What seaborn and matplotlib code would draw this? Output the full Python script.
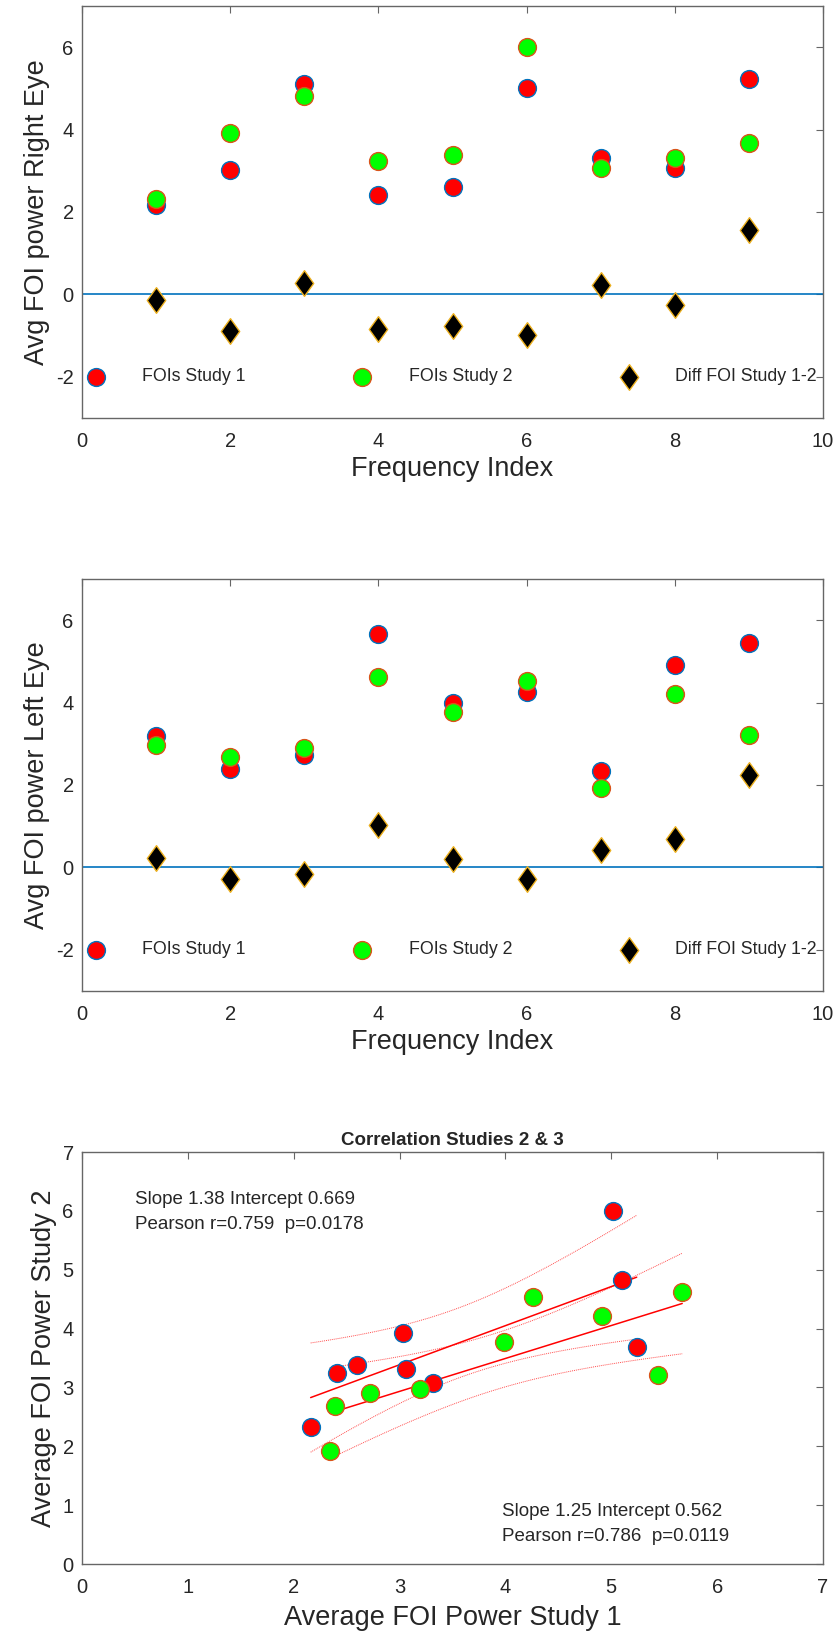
import numpy as np
import pandas as pd
import seaborn as sns
import matplotlib
matplotlib.use('Agg')
import matplotlib.pyplot as plt
from matplotlib.path import Path

# Datos: potencia FOI promedio por indice de frecuencia
freq = [1, 2, 3, 4, 5, 6, 7, 8, 9]

# Ojo derecho
right_s1 = [2.16, 3.03, 5.10, 2.41, 2.60, 5.02, 3.32, 3.06, 5.24]
right_s2 = [2.32, 3.92, 4.82, 3.24, 3.38, 6.00, 3.07, 3.32, 3.68]
right_diff = [-0.14, -0.89, 0.27, -0.84, -0.77, -0.99, 0.24, -0.25, 1.56]

# Ojo izquierdo
left_s1 = [3.19, 2.39, 2.72, 5.67, 3.99, 4.26, 2.34, 4.91, 5.44]
left_s2 = [2.97, 2.68, 2.90, 4.62, 3.78, 4.53, 1.92, 4.21, 3.21]
left_diff = [0.22, -0.29, -0.17, 1.04, 0.20, -0.27, 0.42, 0.70, 2.24]

# Textos de la regresion (tal cual aparecen)
stats_right = ['Slope 1.38 Intercept 0.669', 'Pearson r=0.759  p=0.0178']
stats_left = ['Slope 1.25 Intercept 0.562', 'Pearson r=0.786  p=0.0119']

T_95 = 2.365  # t de student, 7 grados de libertad

sns.set_style('white')
plt.rcParams['font.family'] = ['Liberation Sans', 'DejaVu Sans']
plt.rcParams['axes.unicode_minus'] = False
plt.rcParams['axes.edgecolor'] = '#666666'
plt.rcParams['xtick.color'] = '#666666'
plt.rcParams['ytick.color'] = '#666666'
plt.rcParams['xtick.labelcolor'] = '#262626'
plt.rcParams['ytick.labelcolor'] = '#262626'

RED, RED_EDGE = '#FF0000', '#0072BD'
GREEN, GREEN_EDGE = '#00FF00', '#D95319'
DIAM_EDGE = '#EDB120'
MS = 165
# rombo estilo matlab (mas ancho que el 'd' de matplotlib)
ROMBO = Path([(0, 1), (0.72, 0), (0, -1), (-0.72, 0), (0, 1)], closed=True)

W, H = 839, 1642
fig = plt.figure(figsize=(W / 100, H / 100), dpi=100)


def nuevo_eje(top, bottom):
    return fig.add_axes([82 / W, 1 - bottom / H, 741 / W, (bottom - top) / H])


def estilo(ax):
    ax.tick_params(direction='in', top=True, right=True, length=5, width=0.8,
                   labelsize=14.5, pad=6)
    ax.tick_params(axis='x', pad=10)
    for s in ax.spines.values():
        s.set_linewidth(1.0)


def panel_ojo(ax, s1, s2, diff, ylabel):
    df = pd.DataFrame({'freq': freq, 's1': s1, 's2': s2, 'diff': diff})
    ax.axhline(0, color='#0072BD', lw=1.2, zorder=1)
    sns.scatterplot(data=df, x='freq', y='s1', ax=ax, color=RED, edgecolor=RED_EDGE,
                    linewidth=1.0, s=MS, label='FOIs Study 1', zorder=3)
    sns.scatterplot(data=df, x='freq', y='s2', ax=ax, color=GREEN, edgecolor=GREEN_EDGE,
                    linewidth=1.0, s=MS, label='FOIs Study 2', zorder=3)
    sns.scatterplot(data=df, x='freq', y='diff', ax=ax, color='black', edgecolor=DIAM_EDGE,
                    linewidth=1.0, s=340, marker=ROMBO, label='Diff FOI Study 1-2', zorder=3)
    ax.set_xlim(0, 10)
    ax.set_ylim(-3, 7)
    ax.set_xticks([0, 2, 4, 6, 8, 10])
    ax.set_yticks([-2, 0, 2, 4, 6])
    ax.set_xlabel('Frequency Index', fontsize=19.5, color='#262626', labelpad=4)
    ax.set_ylabel(ylabel, fontsize=19.5, color='#262626', labelpad=4)
    ax.legend(loc='center left', bbox_to_anchor=(0.0, 0.1), ncol=3, frameon=False,
              fontsize=12.8, handlelength=1.0, handletextpad=2.1, columnspacing=6.05,
              borderaxespad=0, borderpad=0.3)
    estilo(ax)


def ajuste(ax, x, y):
    x = np.asarray(x)
    y = np.asarray(y)
    n = len(x)
    b, a = np.polyfit(x, y, 1)
    res = y - (a + b * x)
    s = np.sqrt(np.sum(res ** 2) / (n - 2))
    sxx = np.sum((x - x.mean()) ** 2)
    xs = np.linspace(x.min(), x.max(), 60)
    yh = a + b * xs
    se = s * np.sqrt(1 / n + (xs - x.mean()) ** 2 / sxx)
    linea = pd.DataFrame({'x': xs, 'y': yh, 'lo': yh - T_95 * se, 'hi': yh + T_95 * se})
    sns.lineplot(data=linea, x='x', y='y', ax=ax, color='red', lw=1.1, zorder=2)
    sns.lineplot(data=linea, x='x', y='lo', ax=ax, color='red', lw=0.7,
                 linestyle=(0, (1, 1)), alpha=0.7, zorder=2)
    sns.lineplot(data=linea, x='x', y='hi', ax=ax, color='red', lw=0.7,
                 linestyle=(0, (1, 1)), alpha=0.7, zorder=2)


# ----------------------------------------------------------------------------- ojo derecho
ax1 = nuevo_eje(6, 418)
panel_ojo(ax1, right_s1, right_s2, right_diff, 'Avg FOI power Right Eye')

# ----------------------------------------------------------------------------- ojo izquierdo
ax2 = nuevo_eje(579, 991)
panel_ojo(ax2, left_s1, left_s2, left_diff, 'Avg FOI power Left Eye')

# ----------------------------------------------------------------------------- correlacion
ax3 = nuevo_eje(1152, 1564)
ajuste(ax3, right_s1, right_s2)
ajuste(ax3, left_s1, left_s2)
sns.scatterplot(x=right_s1, y=right_s2, ax=ax3, color=RED, edgecolor=RED_EDGE,
                linewidth=1.0, s=MS, zorder=3)
sns.scatterplot(x=left_s1, y=left_s2, ax=ax3, color=GREEN, edgecolor=GREEN_EDGE,
                linewidth=1.0, s=MS, zorder=3)
ax3.set_xlim(0, 7)
ax3.set_ylim(0, 7)
ax3.set_xticks(range(8))
ax3.set_yticks(range(8))
ax3.set_xlabel('Average FOI Power Study 1', fontsize=19.5, color='#262626', labelpad=6)
ax3.set_ylabel('Average FOI Power Study 2', fontsize=19.5, color='#262626', labelpad=4)
ax3.set_title('Correlation Studies 2 & 3', fontsize=13.5, fontweight='bold', pad=5)
ax3.text(0.5, 6.2, stats_right[0], fontsize=13.5, va='center')
ax3.text(0.5, 5.77, stats_right[1], fontsize=13.5, va='center')
ax3.text(3.97, 0.9, stats_left[0], fontsize=13.5, va='center')
ax3.text(3.97, 0.46, stats_left[1], fontsize=13.5, va='center')
estilo(ax3)

fig.savefig('out.png', dpi=100)
